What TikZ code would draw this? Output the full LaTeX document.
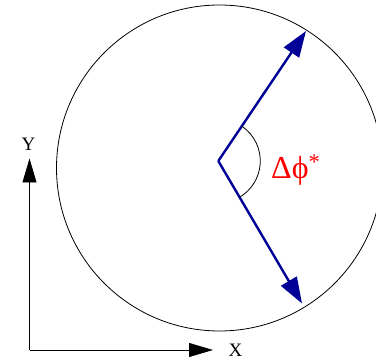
\documentclass[tikz,border=0pt]{standalone}
\usepackage{fontspec}
\setmainfont{Liberation Serif}
\usetikzlibrary{arrows.meta}
\definecolor{darkblue}{RGB}{0,0,150}
\tikzset{
    disk/.style={circle, draw, line width=0.8pt, minimum size=326pt, inner sep=0pt},
    axis/.style={-{Triangle[length=24pt, width=14pt]}, line width=0.8pt},
    vec/.style={-{Triangle[length=26pt, width=18pt]}, line width=2.4pt, darkblue},
    axislabel/.style={font=\fontsize{19}{19}\selectfont, inner sep=0pt},
    anglelabel/.style={font=\fontsize{32}{32}\selectfont, text=red, inner sep=0pt},
}
\begin{document}
\begin{tikzpicture}[x=1pt, y=1pt]

    \useasboundingbox (0,0) rectangle (376,361);
    \begin{scope}
    \clip (0,0) rectangle (376,361);
    \node[disk] (wheel) at (219.5,193) {};
    \end{scope}

    \coordinate (origin) at (29.5,11);
    \coordinate (ytip) at (29.5,202.5);
    \coordinate (xtip) at (213,11);
    \node[axislabel] (ylab) at (28.5,217) {Y};
    \node[axislabel, anchor=west] (xlab) at (228.5,11) {X};
    \draw[axis] (origin) -- (ytip);
    \draw[axis] (origin) -- (xtip);

    \coordinate (hub) at (218.3,200);
    \coordinate (upper) at (306,330);
    \coordinate (lower) at (302,57.5);
    \draw[vec] (hub) -- (upper);
    \draw[vec] (hub) -- (lower);
    \draw[line width=0.8pt] (hub) ++(55.5:42) arc[start angle=55.5, end angle=-59.5, radius=42];
    \node[anglelabel, anchor=west] (dphi) at (271,191) {Δϕ\textsuperscript{*}};

\end{tikzpicture}
\end{document}
